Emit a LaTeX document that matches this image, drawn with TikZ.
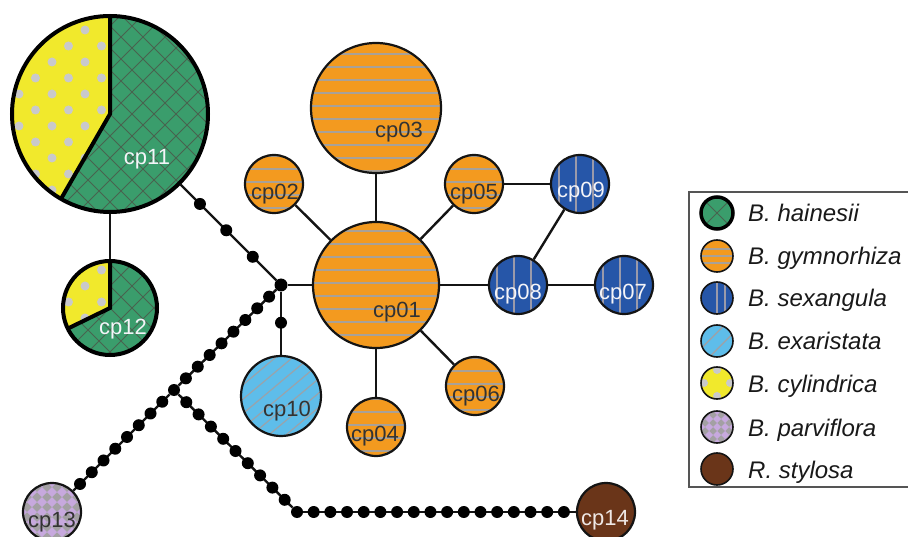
\documentclass[tikz,border=0pt]{standalone}
\usepackage{fontspec}
\setmainfont{Liberation Sans}
\usetikzlibrary{calc}
\definecolor{cgreen}{HTML}{3A9D6C}
\definecolor{chatch}{HTML}{48634F}
\definecolor{corange}{HTML}{F39A1F}
\definecolor{cgline}{HTML}{A8A198}
\definecolor{cblue}{HTML}{2656A8}
\definecolor{cbline}{HTML}{9A9AAA}
\definecolor{clblue}{HTML}{5EBDEA}
\definecolor{clbline}{HTML}{9AA3AA}
\definecolor{cyellow}{HTML}{F1E92C}
\definecolor{cdot}{HTML}{C9C9CB}
\definecolor{cgrayp}{HTML}{A3A0A3}
\definecolor{clav}{HTML}{C7A9DE}
\definecolor{cbrown}{HTML}{6A3519}
\definecolor{ctext}{HTML}{333333}
\definecolor{cwhite}{HTML}{F4F4F8}
\definecolor{cboxline}{HTML}{555555}
% pattern macros: #1 cx, #2 cy, #3 r
\newcommand\pgym[3]{\fill[corange] (#1,#2) circle[radius=#3];
  \foreach \k in {-6,...,6}{\draw[cgline,line width=1.3pt] ({#1-#3-3},{#2+13*\k-2}) -- ({#1+#3+3},{#2+13*\k-2});}}
\newcommand\psex[3]{\fill[cblue] (#1,#2) circle[radius=#3];
  \foreach \k in {-2,...,2}{\draw[cbline,line width=1.3pt] ({#1+17*\k-4},{#2-#3-3}) -- ({#1+17*\k-4},{#2+#3+3});}}
\newcommand\pexa[3]{\fill[clblue] (#1,#2) circle[radius=#3];
  \foreach \k in {-6,...,6}{\draw[clbline,line width=1.2pt] ({#1+11*\k*0.643-60*0.766},{#2+11*\k*0.766+60*0.643}) -- ({#1+11*\k*0.643+60*0.766},{#2+11*\k*0.766-60*0.643});}}
\newcommand\phain[3]{\fill[cgreen] (#1,#2) circle[radius=#3];
  \foreach \k in {-10,...,10}{\draw[chatch,line width=0.9pt] ({#1+22*\k-#3-5},{#2-#3-5}) -- ({#1+22*\k+#3+5},{#2+#3+5});
    \draw[chatch,line width=0.9pt] ({#1+22*\k-#3-5},{#2+#3+5}) -- ({#1+22*\k+#3+5},{#2-#3-5});}}
\newcommand\pparv[3]{\fill[cgrayp] (#1,#2) circle[radius=#3];
  \foreach \m in {-4,...,4}{\foreach \n in {-4,...,4}{\fill[clav] ({#1+10*\m-5},{#2+10*\n}) -- ({#1+10*\m},{#2+10*\n-5}) -- ({#1+10*\m+5},{#2+10*\n}) -- ({#1+10*\m},{#2+10*\n+5}) -- cycle;}}}
% yellow dots on a global lattice, rows #1..#2
\newcommand\pdots[2]{\foreach \b in {#1,...,#2}{\foreach \a in {-3,...,2}{\fill[cdot] ({85+33*\a+16.5*mod(\b,2)},{30+16*\b}) circle[radius=4.5];}}}
\begin{document}
\begin{tikzpicture}[x=1pt,y=-1pt,
  hap/.style={circle,inner sep=0pt,draw=black!92,line width=2.2pt},
  thick hap/.style={circle,inner sep=0pt,draw=black,line width=4pt},
  lbl/.style={font=\fontsize{22}{22}\selectfont,inner sep=0pt,anchor=base},
  lgd/.style={font=\fontsize{24}{24}\selectfont\itshape,inner sep=0pt,anchor=base west,text=black!90},
  dot/.style={circle,fill=black,inner sep=0pt,minimum size=12pt},
  conn/.style={line width=2.4pt,draw=black!92}]
\useasboundingbox (0,0) rectangle (908,537);
\clip (0,0) rectangle (908,537);
% ---- cp11 pie
\begin{scope}
  \clip (110,114) circle[radius=98];
  \phain{110}{114}{98}
  \clip (110,114) -- ++(120:100) arc[start angle=120,end angle=270,radius=100] -- cycle;
  \fill[cyellow] (0,0) rectangle (250,250);
  \pdots{-1}{13}
\end{scope}
\draw[line width=4pt] (110,114) ++(120:98) -- (110,114) -- ++(270:98);
\node[thick hap,minimum size=196pt] (cp11) at (110,114) {};
% ---- cp12 pie
\begin{scope}
  \clip (110,308) circle[radius=47];
  \phain{110}{308}{47}
  \clip (110,308) -- ++(154:50) arc[start angle=154,end angle=270,radius=50] -- cycle;
  \fill[cyellow] (50,250) rectangle (170,370);
  \pdots{14}{20}
\end{scope}
\draw[line width=4pt] (110,308) ++(154:47) -- (110,308) -- ++(270:47);
\node[thick hap,minimum size=94pt] (cp12) at (110,308) {};
% ---- gymnorhiza
\begin{scope}\clip (376,108) circle[radius=65]; \pgym{376}{108}{65}\end{scope}
\node[hap,minimum size=130pt] (cp03) at (376,108) {};
\begin{scope}\clip (376,285) circle[radius=63]; \pgym{376}{285}{63}\end{scope}
\node[hap,minimum size=126pt] (cp01) at (376,285) {};
\begin{scope}\clip (274,184) circle[radius=29]; \pgym{274}{184}{29}\end{scope}
\node[hap,minimum size=58pt] (cp02) at (274,184) {};
\begin{scope}\clip (474,184) circle[radius=29]; \pgym{474}{184}{29}\end{scope}
\node[hap,minimum size=58pt] (cp05) at (474,184) {};
\begin{scope}\clip (376,427) circle[radius=29]; \pgym{376}{427}{29}\end{scope}
\node[hap,minimum size=58pt] (cp04) at (376,427) {};
\begin{scope}\clip (475,386) circle[radius=29]; \pgym{475}{386}{29}\end{scope}
\node[hap,minimum size=58pt] (cp06) at (475,386) {};
% ---- sexangula
\begin{scope}\clip (580,184) circle[radius=29]; \psex{580}{184}{29}\end{scope}
\node[hap,minimum size=58pt] (cp09) at (580,184) {};
\begin{scope}\clip (518,285) circle[radius=29]; \psex{518}{285}{29}\end{scope}
\node[hap,minimum size=58pt] (cp08) at (518,285) {};
\begin{scope}\clip (624,285) circle[radius=29]; \psex{624}{285}{29}\end{scope}
\node[hap,minimum size=58pt] (cp07) at (624,285) {};
% ---- exaristata
\begin{scope}\clip (281,396) circle[radius=40]; \pexa{281}{396}{40}\end{scope}
\node[hap,minimum size=80pt] (cp10) at (281,396) {};
% ---- parviflora, stylosa
\begin{scope}\clip (52,512) circle[radius=29]; \pparv{52}{512}{29}\end{scope}
\node[hap,minimum size=58pt] (cp13) at (52,512) {};
\node[hap,fill=cbrown,minimum size=58pt] (cp14) at (606,512) {};
% ---- junctions
\node[dot,minimum size=13pt] (J1) at (281,285) {};
\node[dot] (J2) at (174,390) {};
\node[dot] (C) at (297,512) {};
% ---- connectors
\draw[conn] (cp11) -- (cp12);
\draw[conn] (cp11) -- (J1);
\draw[conn] (J1) -- (cp01);
\draw[conn] (J1) -- (cp10);
\draw[conn] (J1) -- (J2);
\draw[conn] (J2) -- (cp13);
\draw[conn] (J2) -- (C);
\draw[conn] (C) -- (cp14);
\draw[conn] (cp03) -- (cp01);
\draw[conn] (cp02) -- (cp01);
\draw[conn] (cp05) -- (cp01);
\draw[conn] (cp01) -- (cp04);
\draw[conn] (cp01) -- (cp06);
\draw[conn] (cp01) -- (cp08);
\draw[conn] (cp05) -- (cp09);
\draw[conn] (cp09) -- (cp08);
\draw[conn] (cp08) -- (cp07);
% ---- mutation dots
\foreach \t [count=\i] in {0.526,0.68,0.835}{\node[dot] (u\i) at ($(cp11.center)!\t!(J1)$) {};}
\node[dot] (v1) at ($(J1)!0.54!(cp10.north)$) {};
\foreach \k in {1,...,8}{\node[dot] (w\k) at ($(J1)!\k/9!(J2)$) {};}
\foreach \k in {1,...,8}{\node[dot] (p\k) at ($(J2)!\k*0.0963!(cp13.center)$) {};}
\foreach \k in {1,...,9}{\node[dot] (q\k) at ($(J2)!\k/10!(C)$) {};}
\foreach \k in {1,...,16}{\node[dot] (r\k) at ($(C)!\k*0.05398!(cp14.center)$) {};}
% ---- labels
\node[lbl,text=cwhite] (t11) at (147,165) {cp11};
\node[lbl,text=cwhite] (t12) at (123,335) {cp12};
\node[lbl,text=ctext] (t03) at (399,138) {cp03};
\node[lbl,text=ctext] (t01) at (397,318) {cp01};
\node[lbl,text=ctext] (t02) at (275,200) {cp02};
\node[lbl,text=ctext] (t05) at (474,200) {cp05};
\node[lbl,text=cwhite] (t09) at (581,198) {cp09};
\node[lbl,text=cwhite] (t08) at (518,300) {cp08};
\node[lbl,text=cwhite] (t07) at (623,300) {cp07};
\node[lbl,text=ctext] (t10) at (287,417) {cp10};
\node[lbl,text=ctext] (t04) at (375,441) {cp04};
\node[lbl,text=ctext] (t06) at (476,401) {cp06};
\node[lbl,text=ctext] (t13) at (52,527) {cp13};
\node[lbl,text=cwhite!90!brown] (t14) at (605,525) {cp14};
% ---- legend
\draw[cboxline,line width=2pt] (689,192) rectangle (930,487);
\begin{scope}\clip (717,213) circle[radius=16]; \phain{717}{213}{16}\end{scope}
\node[thick hap,line width=3.5pt,minimum size=32pt] (k1) at (717,213) {};
\begin{scope}\clip (717,256) circle[radius=16]; \fill[corange] (717,256) circle[radius=16];
  \foreach \o in {-7,0,7}{\draw[cgline,line width=1.3pt] (700,256+\o) -- (734,256+\o);}\end{scope}
\node[hap,line width=1.6pt,minimum size=32pt] (k2) at (717,256) {};
\begin{scope}\clip (717,298) circle[radius=16]; \fill[cblue] (717,298) circle[radius=16];
  \foreach \o in {0,8}{\draw[cbline,line width=1.3pt] (717+\o,280) -- (717+\o,316);}\end{scope}
\node[hap,line width=1.6pt,minimum size=32pt] (k3) at (717,298) {};
\begin{scope}\clip (717,341) circle[radius=16]; \fill[clblue] (717,341) circle[radius=16];
  \foreach \o in {-6,6}{\draw[clbline,line width=1.3pt] ({717+\o*0.7-20},{341+\o*0.7+20}) -- ({717+\o*0.7+20},{341+\o*0.7-20});}\end{scope}
\node[hap,line width=1.6pt,minimum size=32pt] (k4) at (717,341) {};
\begin{scope}\clip (717,383) circle[radius=16]; \fill[cyellow] (717,383) circle[radius=16];
  \foreach \dx/\dy in {0/-13,-13/0,13/0,0/13}{\fill[cdot] (717+\dx,383+\dy) circle[radius=4];}\end{scope}
\node[hap,line width=1.6pt,minimum size=32pt] (k5) at (717,383) {};
\begin{scope}\clip (717,427) circle[radius=16]; \fill[cgrayp] (717,427) circle[radius=16];
  \foreach \m in {-2,...,2}{\foreach \n in {-2,...,2}{\fill[clav] ({717+8*\m-4},{427+8*\n}) -- ({717+8*\m},{427+8*\n-4}) -- ({717+8*\m+4},{427+8*\n}) -- ({717+8*\m},{427+8*\n+4}) -- cycle;}}\end{scope}
\node[hap,line width=1.6pt,minimum size=32pt] (k6) at (717,427) {};
\node[hap,line width=1.6pt,fill=cbrown,minimum size=32pt] (k7) at (717,469) {};
\node[lgd] (g1) at (748,222) {B. hainesii};
\node[lgd] (g2) at (748,265) {B. gymnorhiza};
\node[lgd] (g3) at (748,307) {B. sexangula};
\node[lgd] (g4) at (748,350) {B. exaristata};
\node[lgd] (g5) at (748,392) {B. cylindrica};
\node[lgd] (g6) at (748,436) {B. parviflora};
\node[lgd] (g7) at (748,478) {R. stylosa};
\end{tikzpicture}
\end{document}
